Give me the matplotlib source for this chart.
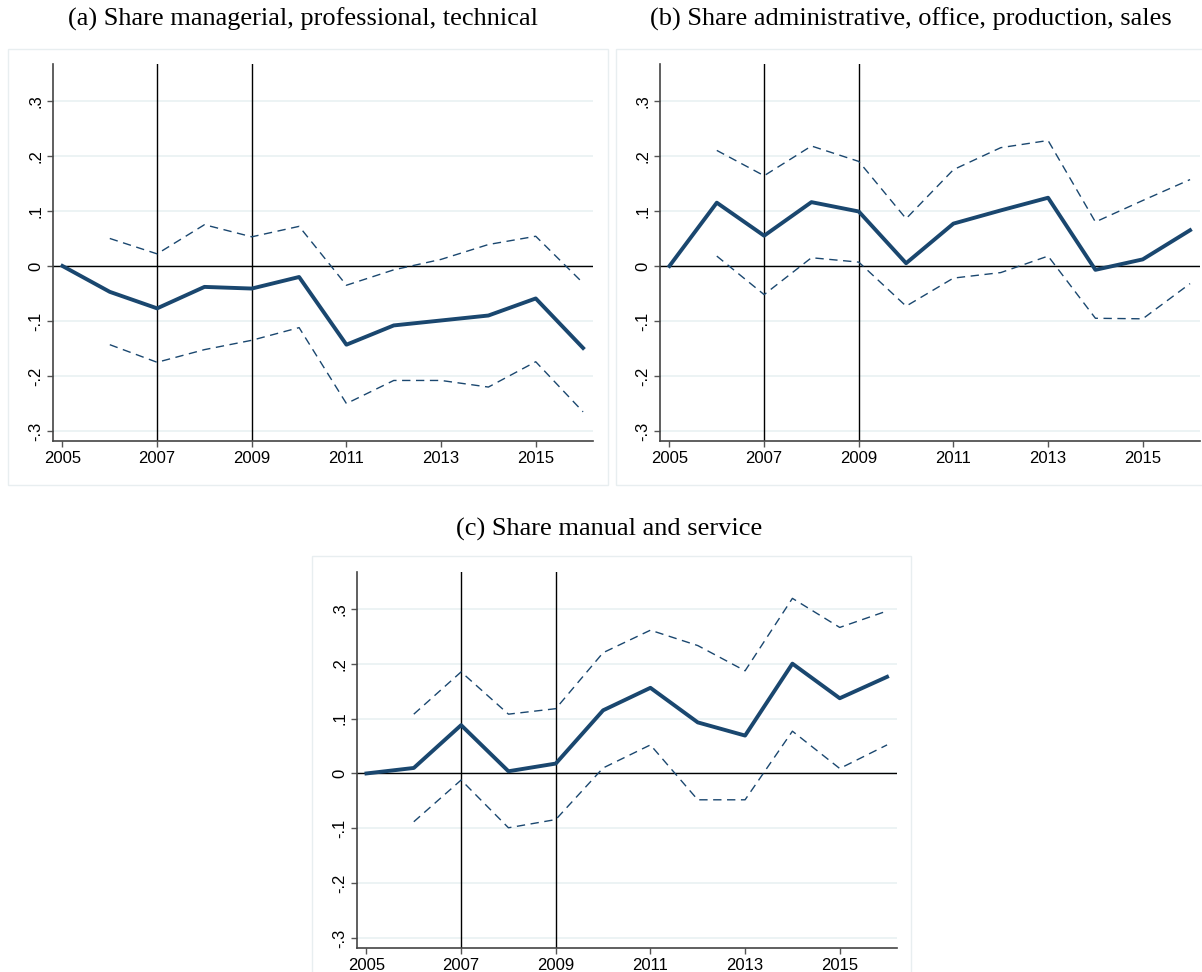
import matplotlib.pyplot as plt
from matplotlib.patches import Rectangle

# years and estimates
years = [2005, 2006, 2007, 2008, 2009, 2010, 2011, 2012, 2013, 2014, 2015, 2016]
ci_years = years[1:]

# (a) managerial, professional, technical
coef_a = [0, -0.047, -0.077, -0.038, -0.041, -0.020, -0.143, -0.108, -0.099, -0.090, -0.059, -0.149]
hi_a = [0.050, 0.022, 0.075, 0.053, 0.072, -0.035, -0.007, 0.012, 0.039, 0.054, -0.031]
lo_a = [-0.143, -0.175, -0.152, -0.135, -0.112, -0.250, -0.208, -0.208, -0.220, -0.174, -0.265]

# (b) administrative, office, production, sales
coef_b = [0, 0.115, 0.055, 0.116, 0.099, 0.005, 0.077, 0.101, 0.124, -0.007, 0.012, 0.065]
hi_b = [0.210, 0.164, 0.218, 0.190, 0.086, 0.175, 0.215, 0.228, 0.080, 0.119, 0.157]
lo_b = [0.018, -0.052, 0.015, 0.007, -0.073, -0.022, -0.012, 0.018, -0.095, -0.096, -0.032]

# (c) manual and service
coef_c = [0, 0.010, 0.088, 0.004, 0.018, 0.115, 0.156, 0.093, 0.069, 0.200, 0.137, 0.176]
hi_c = [0.108, 0.185, 0.108, 0.118, 0.220, 0.261, 0.233, 0.187, 0.319, 0.266, 0.296]
lo_c = [-0.088, -0.012, -0.099, -0.084, 0.010, 0.052, -0.048, -0.048, 0.077, 0.009, 0.052]

titles = ["(a) Share managerial, professional, technical",
          "(b) Share administrative, office, production, sales",
          "(c) Share manual and service"]
yticks = [-0.3, -0.2, -0.1, 0, 0.1, 0.2, 0.3]
ytick_labels = ["-.3", "-.2", "-.1", "0", ".1", ".2", ".3"]
xticks = [2005, 2007, 2009, 2011, 2013, 2015]

navy = '#1a476f'
W, H = 1202, 972

fig = plt.figure(figsize=(12.02, 9.72), dpi=100)

# light frames around each panel (pixel boxes: x0, y0, x1, y1 from top-left)
frames = [(8, 49, 608, 485), (616, 49, 1215, 485), (312, 556, 911, 985)]
for x0, y0, x1, y1 in frames:
    fig.patches.append(Rectangle((x0 / W, 1 - y1 / H), (x1 - x0) / W, (y1 - y0) / H,
                                 transform=fig.transFigure, fill=False,
                                 edgecolor='#e8eef0', linewidth=1.0))

# axes boxes in pixels: left, top, right, bottom
boxes = [(53, 64, 593, 441), (660, 64, 1200, 441), (357, 572, 897, 948)]
title_pos = [(303, 19), (911, 19), (609, 529)]
data = [(coef_a, hi_a, lo_a), (coef_b, hi_b, lo_b), (coef_c, hi_c, lo_c)]

for i in range(3):
    l, t, r, b = boxes[i]
    ax = fig.add_axes([l / W, 1 - b / H, (r - l) / W, (b - t) / H])
    coef, hi, lo = data[i]

    ax.set_xlim(2004.8, 2016.21)
    ax.set_ylim(-0.318, 0.367)
    for y in yticks:
        ax.axhline(y, color='#eaf2f3', linewidth=1.3, zorder=0)
    ax.axhline(0, color='black', linewidth=1.0, zorder=1)
    ax.axvline(2007, color='black', linewidth=1.0, zorder=1)
    ax.axvline(2009, color='black', linewidth=1.0, zorder=1)

    ax.plot(years, coef, color=navy, linewidth=2.8, zorder=3)
    ax.plot(ci_years, hi, color=navy, linewidth=1.0, dashes=(6, 4), zorder=2)
    ax.plot(ci_years, lo, color=navy, linewidth=1.0, dashes=(6, 4), zorder=2)

    ax.set_xticks(xticks)
    ax.set_xticklabels([str(x) for x in xticks], family='Liberation Sans', fontsize=12)
    ax.set_yticks(yticks)
    ax.set_yticklabels(ytick_labels, family='Liberation Sans', fontsize=12,
                       rotation=90, va='center')
    ax.tick_params(length=4, width=1, color='#555555', pad=3)

    for s in ['top', 'right']:
        ax.spines[s].set_visible(False)
    for s in ['left', 'bottom']:
        ax.spines[s].set_color('#444444')
        ax.spines[s].set_linewidth(1.2)

    tx, ty = title_pos[i]
    fig.text(tx / W, 1 - ty / H, titles[i], ha='center', va='center',
             family='Liberation Serif', fontsize=19)

fig.savefig('out.png', dpi=100)
